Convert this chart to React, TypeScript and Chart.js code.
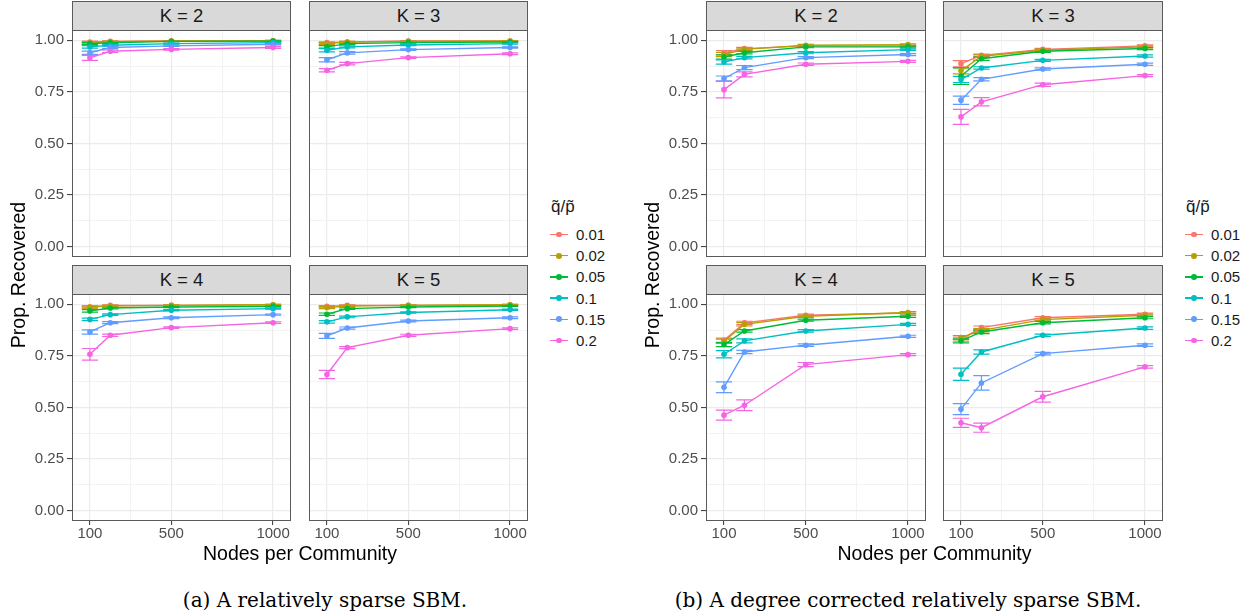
import React, { useEffect, useRef } from 'react';
import { Chart, registerables } from 'chart.js';

Chart.register(...registerables);

const SANS = "'Liberation Sans', Arial, Helvetica, sans-serif";
const SERIF = "'DejaVu Serif', 'Liberation Serif', serif";

// ---------- data ----------
const nodesPerCommunity = [100, 200, 500, 1000];
const ratioLabels = ['0.01', '0.02', '0.05', '0.1', '0.15', '0.2'];
const ratioColors = ['#F8766D', '#B79F00', '#00BA38', '#00BFC4', '#619CFF', '#F564E3'];
const yMajorTicks = [0, 0.25, 0.5, 0.75, 1];
const yMinorTicks = [0.125, 0.375, 0.625, 0.875];
const xMajorTicks = [100, 500, 1000];
const xMinorTicks = [300, 750];

// (a) relatively sparse SBM — rows follow ratioLabels, columns follow nodesPerCommunity
const sparseK2 = [
  [0.992, 0.995, 0.997, 0.998],
  [0.987, 0.993, 0.997, 0.998],
  [0.984, 0.988, 0.995, 0.996],
  [0.968, 0.976, 0.984, 0.989],
  [0.940, 0.965, 0.973, 0.981],
  [0.915, 0.947, 0.956, 0.965],
];
const sparseK2Err = [
  [0.004, 0.003, 0.002, 0.002],
  [0.005, 0.003, 0.002, 0.002],
  [0.005, 0.004, 0.002, 0.002],
  [0.006, 0.004, 0.003, 0.003],
  [0.008, 0.005, 0.003, 0.003],
  [0.012, 0.006, 0.004, 0.004],
];
const sparseK3 = [
  [0.989, 0.992, 0.997, 0.997],
  [0.984, 0.992, 0.995, 0.997],
  [0.968, 0.984, 0.989, 0.992],
  [0.952, 0.968, 0.977, 0.984],
  [0.906, 0.939, 0.955, 0.965],
  [0.855, 0.887, 0.916, 0.935],
];
const sparseK3Err = [
  [0.004, 0.003, 0.002, 0.002],
  [0.005, 0.003, 0.002, 0.002],
  [0.006, 0.004, 0.003, 0.002],
  [0.008, 0.005, 0.003, 0.003],
  [0.010, 0.006, 0.004, 0.003],
  [0.008, 0.006, 0.004, 0.004],
];
const sparseK4 = [
  [0.987, 0.995, 0.995, 0.998],
  [0.987, 0.992, 0.995, 0.998],
  [0.968, 0.982, 0.987, 0.990],
  [0.927, 0.950, 0.971, 0.979],
  [0.866, 0.911, 0.935, 0.950],
  [0.758, 0.850, 0.887, 0.911],
];
const sparseK4Err = [
  [0.004, 0.003, 0.002, 0.002],
  [0.005, 0.003, 0.002, 0.002],
  [0.006, 0.004, 0.003, 0.002],
  [0.006, 0.004, 0.003, 0.003],
  [0.010, 0.005, 0.004, 0.003],
  [0.028, 0.006, 0.004, 0.004],
];
const sparseK5 = [
  [0.990, 0.995, 0.995, 0.998],
  [0.984, 0.992, 0.995, 0.998],
  [0.952, 0.979, 0.987, 0.992],
  [0.915, 0.939, 0.960, 0.974],
  [0.847, 0.885, 0.919, 0.935],
  [0.660, 0.790, 0.850, 0.882],
];
const sparseK5Err = [
  [0.004, 0.003, 0.002, 0.002],
  [0.005, 0.003, 0.002, 0.002],
  [0.006, 0.004, 0.003, 0.002],
  [0.006, 0.004, 0.003, 0.003],
  [0.012, 0.005, 0.004, 0.004],
  [0.020, 0.005, 0.005, 0.004],
];

// (b) degree corrected relatively sparse SBM
const degreeK2 = [
  [0.940, 0.960, 0.973, 0.973],
  [0.931, 0.956, 0.976, 0.979],
  [0.919, 0.940, 0.968, 0.968],
  [0.895, 0.916, 0.940, 0.955],
  [0.815, 0.868, 0.916, 0.931],
  [0.761, 0.835, 0.884, 0.898],
];
const degreeK2Err = [
  [0.010, 0.006, 0.004, 0.004],
  [0.010, 0.006, 0.004, 0.004],
  [0.010, 0.006, 0.004, 0.004],
  [0.010, 0.006, 0.005, 0.004],
  [0.012, 0.010, 0.005, 0.005],
  [0.040, 0.012, 0.006, 0.005],
];
const degreeK3 = [
  [0.887, 0.927, 0.956, 0.973],
  [0.852, 0.923, 0.952, 0.968],
  [0.826, 0.911, 0.947, 0.960],
  [0.810, 0.866, 0.903, 0.924],
  [0.710, 0.811, 0.861, 0.884],
  [0.629, 0.702, 0.785, 0.829],
];
const degreeK3Err = [
  [0.015, 0.006, 0.005, 0.005],
  [0.015, 0.006, 0.005, 0.005],
  [0.040, 0.008, 0.005, 0.005],
  [0.015, 0.006, 0.005, 0.005],
  [0.020, 0.008, 0.005, 0.005],
  [0.036, 0.020, 0.008, 0.005],
];
const degreeK4 = [
  [0.826, 0.910, 0.947, 0.958],
  [0.821, 0.903, 0.942, 0.960],
  [0.805, 0.871, 0.923, 0.942],
  [0.758, 0.823, 0.871, 0.903],
  [0.598, 0.769, 0.802, 0.845],
  [0.463, 0.511, 0.708, 0.756],
];
const degreeK4Err = [
  [0.010, 0.008, 0.005, 0.005],
  [0.010, 0.008, 0.005, 0.005],
  [0.010, 0.006, 0.005, 0.005],
  [0.018, 0.010, 0.006, 0.005],
  [0.026, 0.008, 0.006, 0.005],
  [0.024, 0.026, 0.010, 0.005],
];
const degreeK5 = [
  [0.831, 0.887, 0.935, 0.952],
  [0.839, 0.874, 0.926, 0.947],
  [0.823, 0.866, 0.911, 0.935],
  [0.661, 0.769, 0.850, 0.885],
  [0.492, 0.619, 0.761, 0.802],
  [0.426, 0.402, 0.552, 0.697],
];
const degreeK5Err = [
  [0.010, 0.008, 0.006, 0.005],
  [0.010, 0.008, 0.006, 0.005],
  [0.010, 0.008, 0.006, 0.005],
  [0.030, 0.010, 0.006, 0.006],
  [0.027, 0.035, 0.006, 0.006],
  [0.022, 0.022, 0.026, 0.006],
];

// ---------- layout ----------
const Y_AXIS_W = 45;
const X_AXIS_H = 30;
const PLOT_H = 227;
const STRIP_H = 29;
const ROW_TOP = [30, 294];
const STRIP_TOP = [1, 265];
const ERR_HALF_WIDTH = 40; // in data units of the x axis

const errorBarPlugin = {
  id: 'errorBars',
  beforeDatasetsDraw(chart: any) {
    const ctx = chart.ctx;
    const xs = chart.scales.x;
    const ys = chart.scales.y;
    ctx.save();
    ctx.beginPath();
    ctx.rect(chart.chartArea.left, chart.chartArea.top, chart.chartArea.right - chart.chartArea.left, chart.chartArea.bottom - chart.chartArea.top);
    ctx.clip();
    chart.data.datasets.forEach((ds: any) => {
      ctx.strokeStyle = ds.borderColor;
      ctx.lineWidth = 1.2;
      ds.data.forEach((p: any, j: number) => {
        const e = ds.errors[j];
        const x = xs.getPixelForValue(p.x);
        const x0 = xs.getPixelForValue(p.x - ERR_HALF_WIDTH);
        const x1 = xs.getPixelForValue(p.x + ERR_HALF_WIDTH);
        const yLo = ys.getPixelForValue(p.y - e);
        const yHi = ys.getPixelForValue(p.y + e);
        ctx.beginPath();
        ctx.moveTo(x, yLo);
        ctx.lineTo(x, yHi);
        ctx.moveTo(x0, yLo);
        ctx.lineTo(x1, yLo);
        ctx.moveTo(x0, yHi);
        ctx.lineTo(x1, yHi);
        ctx.stroke();
      });
    });
    ctx.restore();
  },
};

const panelBorderPlugin = {
  id: 'panelBorder',
  afterDraw(chart: any) {
    const { left, top, right, bottom } = chart.chartArea;
    const ctx = chart.ctx;
    ctx.save();
    ctx.strokeStyle = '#5a5a5a';
    ctx.lineWidth = 1;
    ctx.strokeRect(Math.round(left) + 0.5, Math.round(top) + 0.5, Math.round(right - left) - 1, Math.round(bottom - top) - 1);
    ctx.restore();
  },
};

type FacetProps = {
  title: string;
  values: number[][];
  errors: number[][];
  plotLeft: number;
  plotW: number;
  row: number;
  showY: boolean;
  showX: boolean;
};

function Facet({ title, values, errors, plotLeft, plotW, row, showY, showX }: FacetProps) {
  const ref = useRef<HTMLCanvasElement>(null);
  const yW = showY ? Y_AXIS_W : 0;
  const xH = showX ? X_AXIS_H : 0;
  const cw = plotW + yW;
  const ch = PLOT_H + xH;
  const plotTop = ROW_TOP[row];

  useEffect(() => {
    const isMajorX = (v: number) => xMajorTicks.includes(v);
    const isMajorY = (v: number) => yMajorTicks.includes(v);
    const chart = new Chart(ref.current as HTMLCanvasElement, {
      type: 'line',
      data: {
        datasets: ratioLabels.map((lab, i) => ({
          label: lab,
          data: nodesPerCommunity.map((x, j) => ({ x, y: values[i][j] })),
          errors: errors[i],
          borderColor: ratioColors[i],
          backgroundColor: ratioColors[i],
          pointBackgroundColor: ratioColors[i],
          pointBorderColor: ratioColors[i],
          borderWidth: 1.4,
          pointRadius: 2.8,
          pointBorderWidth: 0,
          pointHoverRadius: 2.8,
          tension: 0,
          order: ratioLabels.length - i,
        })) as any,
      },
      options: {
        responsive: false,
        animation: false,
        devicePixelRatio: 1,
        events: [],
        layout: { padding: 0, autoPadding: false },
        plugins: { legend: { display: false }, tooltip: { enabled: false }, title: { display: false } },
        scales: {
          x: {
            type: 'linear',
            min: 12,
            max: 1088,
            afterBuildTicks: (s: any) => {
              s.ticks = [...xMajorTicks, ...xMinorTicks].sort((a, b) => a - b).map((v) => ({ value: v }));
            },
            afterFit: (s: any) => {
              s.height = xH;
              s.paddingLeft = 0;
              s.paddingRight = 0;
            },
            border: { display: false },
            grid: {
              color: '#EBEBEB',
              lineWidth: (c: any) => (c.tick && isMajorX(c.tick.value) ? 1.2 : 0.6),
              drawTicks: showX,
              tickLength: 4,
              tickWidth: 1,
              tickColor: (c: any) => (c.tick && isMajorX(c.tick.value) ? '#333333' : 'rgba(0,0,0,0)'),
            },
            ticks: {
              display: showX,
              autoSkip: false,
              maxRotation: 0,
              padding: 0,
              color: '#4D4D4D',
              font: { family: SANS, size: 15 },
              callback: (v: any) => (isMajorX(Number(v)) ? String(v) : ''),
            },
          },
          y: {
            type: 'linear',
            min: -0.05,
            max: 1.05,
            afterBuildTicks: (s: any) => {
              s.ticks = [...yMajorTicks, ...yMinorTicks].sort((a, b) => a - b).map((v) => ({ value: v }));
            },
            afterFit: (s: any) => {
              s.width = yW;
              s.paddingTop = 0;
              s.paddingBottom = 0;
            },
            border: { display: false },
            grid: {
              color: '#EBEBEB',
              lineWidth: (c: any) => (c.tick && isMajorY(c.tick.value) ? 1.2 : 0.6),
              drawTicks: showY,
              tickLength: 5,
              tickWidth: 1,
              tickColor: (c: any) => (c.tick && isMajorY(c.tick.value) ? '#333333' : 'rgba(0,0,0,0)'),
            },
            ticks: {
              display: showY,
              autoSkip: false,
              padding: 3,
              color: '#4D4D4D',
              font: { family: SANS, size: 15 },
              callback: (v: any) => (isMajorY(Number(v)) ? Number(v).toFixed(2) : ''),
            },
          },
        },
      } as any,
      plugins: [errorBarPlugin, panelBorderPlugin],
    });
    return () => chart.destroy();
  }, []);

  return (
    <>
      <div
        style={{
          position: 'absolute',
          left: plotLeft,
          top: STRIP_TOP[row],
          width: plotW,
          height: STRIP_H + 1,
          boxSizing: 'border-box',
          background: '#D9D9D9',
          border: '1px solid #5a5a5a',
          display: 'flex',
          alignItems: 'center',
          justifyContent: 'center',
          fontFamily: SANS,
          fontSize: 18.5,
          color: '#1A1A1A',
        }}
      >
        {title}
      </div>
      <canvas
        ref={ref}
        width={cw}
        height={ch}
        style={{ position: 'absolute', left: plotLeft - yW, top: plotTop, width: cw, height: ch }}
      />
    </>
  );
}

function Legend({ left }: { left: number }) {
  return (
    <div style={{ position: 'absolute', left, top: 196, fontFamily: SANS, color: '#1A1A1A' }}>
      <div style={{ fontSize: 17, height: 28, lineHeight: '22px', paddingLeft: 1 }}>q&#771;/p&#771;</div>
      {ratioLabels.map((lab, i) => (
        <div key={lab} style={{ position: 'relative', height: 21.2, display: 'flex', alignItems: 'center' }}>
          <div style={{ position: 'relative', width: 18, height: 21.2, marginRight: 8 }}>
            <div style={{ position: 'absolute', left: 0, top: 9.8, width: 18, height: 1.5, background: ratioColors[i] }} />
            <div style={{ position: 'absolute', left: 6.2, top: 7.7, width: 5.8, height: 5.8, borderRadius: '50%', background: ratioColors[i] }} />
          </div>
          <span style={{ fontSize: 15 }}>{lab}</span>
        </div>
      ))}
    </div>
  );
}

function Panel({ leftX, rightX, plotW, data, errs }: { leftX: number; rightX: number; plotW: number; data: number[][][]; errs: number[][][] }) {
  const totalRight = rightX + plotW;
  return (
    <>
      <Facet title="K = 2" values={data[0]} errors={errs[0]} plotLeft={leftX} plotW={plotW} row={0} showY={true} showX={false} />
      <Facet title="K = 3" values={data[1]} errors={errs[1]} plotLeft={rightX} plotW={plotW} row={0} showY={false} showX={false} />
      <Facet title="K = 4" values={data[2]} errors={errs[2]} plotLeft={leftX} plotW={plotW} row={1} showY={true} showX={true} />
      <Facet title="K = 5" values={data[3]} errors={errs[3]} plotLeft={rightX} plotW={plotW} row={1} showY={false} showX={true} />
      <div
        style={{
          position: 'absolute',
          left: leftX - 54 - 100,
          top: 275,
          width: 200,
          height: 24,
          marginTop: -12,
          textAlign: 'center',
          lineHeight: '24px',
          transform: 'rotate(-90deg)',
          fontFamily: SANS,
          fontSize: 19.5,
          color: '#000',
        }}
      >
        Prop. Recovered
      </div>
      <div
        style={{
          position: 'absolute',
          left: (leftX + totalRight) / 2 - 150,
          top: 541,
          width: 300,
          textAlign: 'center',
          lineHeight: '24px',
          fontFamily: SANS,
          fontSize: 19.5,
          color: '#000',
        }}
      >
        Nodes per Community
      </div>
      <Legend left={totalRight + 22} />
    </>
  );
}

export default function App() {
  return (
    <div style={{ position: 'absolute', left: 0, top: 0, width: 1250, height: 615, background: '#fff', overflow: 'hidden' }}>
      <Panel
        leftX={72}
        rightX={309}
        plotW={219}
        data={[sparseK2, sparseK3, sparseK4, sparseK5]}
        errs={[sparseK2Err, sparseK3Err, sparseK4Err, sparseK5Err]}
      />
      <Panel
        leftX={706}
        rightX={943}
        plotW={220}
        data={[degreeK2, degreeK3, degreeK4, degreeK5]}
        errs={[degreeK2Err, degreeK3Err, degreeK4Err, degreeK5Err]}
      />
      <div style={{ position: 'absolute', left: 75, top: 586, width: 500, textAlign: 'center', fontFamily: SERIF, fontSize: 20, lineHeight: '28px', color: '#000' }}>
        (a) A relatively sparse SBM.
      </div>
      <div style={{ position: 'absolute', left: 608, top: 586, width: 600, textAlign: 'center', fontFamily: SERIF, fontSize: 20, lineHeight: '28px', color: '#000' }}>
        (b) A degree corrected relatively sparse SBM.
      </div>
    </div>
  );
}
